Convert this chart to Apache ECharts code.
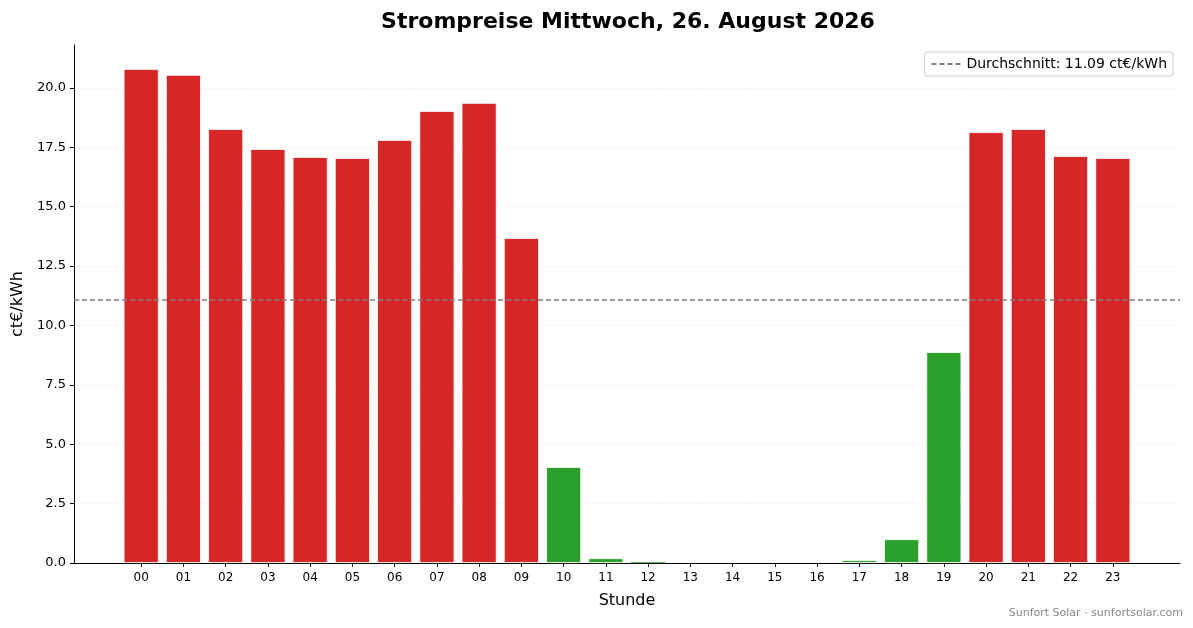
<!DOCTYPE html>
<html lang="de">
<head>
    <meta charset="UTF-8">
    <title>Strompreise</title>
    <script src="https://cdn.jsdelivr.net/npm/echarts@6/dist/echarts.min.js"></script>
    <style>
        html, body { margin: 0; padding: 0; background: #fff; }
        #chart { width: 1193px; height: 628px; }
    </style>
</head>
<body>
<div id="chart"></div>
<script type="text/javascript">
    // Stunden 0..23 und Preise in ct/kWh
    var hours = [0, 1, 2, 3, 4, 5, 6, 7, 8, 9, 10, 11, 12, 13, 14, 15, 16, 17, 18, 19, 20, 21, 22, 23];
    var prices = [20.8, 20.55, 18.27, 17.43, 17.09, 17.05, 17.81, 19.03, 19.37, 13.68, 4.04, 0.2,
        0.03, 0, 0, 0, 0, 0.12, 1.0, 8.88, 18.14, 18.27, 17.13, 17.05];
    var average = 11.09;
    var yTicks = [0, 2.5, 5, 7.5, 10, 12.5, 15, 17.5, 20];

    var red = '#d62728';
    var green = '#2ca02c';
    var font = 'DejaVu Sans';

    var barData = [];
    for (var i = 0; i < hours.length; i++) {
        barData.push({
            value: [hours[i], prices[i]],
            itemStyle: {
                color: prices[i] < average ? green : red,
                borderWidth: prices[i] > 0.05 ? 0.8 : 0
            }
        });
    }

    var myChart = echarts.init(document.getElementById('chart'));
    var option = {
        animation: false,
        textStyle: {fontFamily: font},
        title: {
            text: 'Strompreise Mittwoch, 26. August 2026',
            left: 623,
            textAlign: 'center',
            top: 6,
            textStyle: {fontFamily: font, fontSize: 22, fontWeight: 'bold', color: '#000'}
        },
        legend: {
            right: 20,
            top: 52,
            padding: [5, 6, 5, 6],
            borderColor: '#ccc',
            borderWidth: 1,
            borderRadius: 3,
            itemWidth: 30,
            itemHeight: 10,
            itemStyle: {opacity: 0},
            textStyle: {fontFamily: font, fontSize: 14, color: '#000'},
            data: ['Durchschnitt: 11.09 ct€/kWh']
        },
        grid: {left: 74, right: 13, top: 45, bottom: 65},
        xAxis: {
            type: 'value',
            min: -1.59,
            max: 24.59,
            name: 'Stunde',
            nameLocation: 'middle',
            nameGap: 30,
            nameTextStyle: {fontFamily: font, fontSize: 16, color: '#000'},
            axisLine: {show: true, onZero: false, lineStyle: {color: '#000', width: 1}},
            axisTick: {show: true, length: 4, customValues: hours, lineStyle: {color: '#000'}},
            axisLabel: {
                customValues: hours,
                fontSize: 12,
                color: '#000',
                margin: 9,
                formatter: function (v) { return (v < 10 ? '0' : '') + v; }
            },
            splitLine: {show: false}
        },
        yAxis: {
            type: 'value',
            min: 0,
            max: 21.81,
            name: 'ct€/kWh',
            nameLocation: 'middle',
            nameGap: 47,
            nameTextStyle: {fontFamily: font, fontSize: 16, color: '#000'},
            axisLine: {show: true, onZero: false, lineStyle: {color: '#000', width: 1}},
            axisTick: {show: true, length: 4, customValues: yTicks, lineStyle: {color: '#000'}},
            axisLabel: {
                customValues: yTicks,
                fontSize: 13,
                color: '#000',
                margin: 8,
                formatter: function (v) { return v.toFixed(1); }
            },
            splitLine: {show: true, lineStyle: {color: '#ddd', type: [1, 3], width: 0.8}}
        },
        series: [
            {
                name: 'Preis',
                type: 'bar',
                barWidth: 35,
                data: barData,
                itemStyle: {borderColor: '#fff'}
            },
            {
                name: 'Durchschnitt: 11.09 ct€/kWh',
                type: 'line',
                symbol: 'none',
                data: [],
                lineStyle: {color: '#808080', type: [5, 3], width: 1.5},
                itemStyle: {color: '#808080'},
                markLine: {
                    silent: true,
                    symbol: 'none',
                    label: {show: false},
                    lineStyle: {color: '#808080', type: [5, 3], width: 1.5},
                    data: [{yAxis: average}]
                }
            }
        ],
        graphic: [{
            type: 'text',
            right: 10,
            top: 608,
            style: {text: 'Sunfort Solar · sunfortsolar.com', fontFamily: font, fontSize: 11, fill: '#888'}
        }]
    };
    myChart.setOption(option);
</script>
</body>
</html>
